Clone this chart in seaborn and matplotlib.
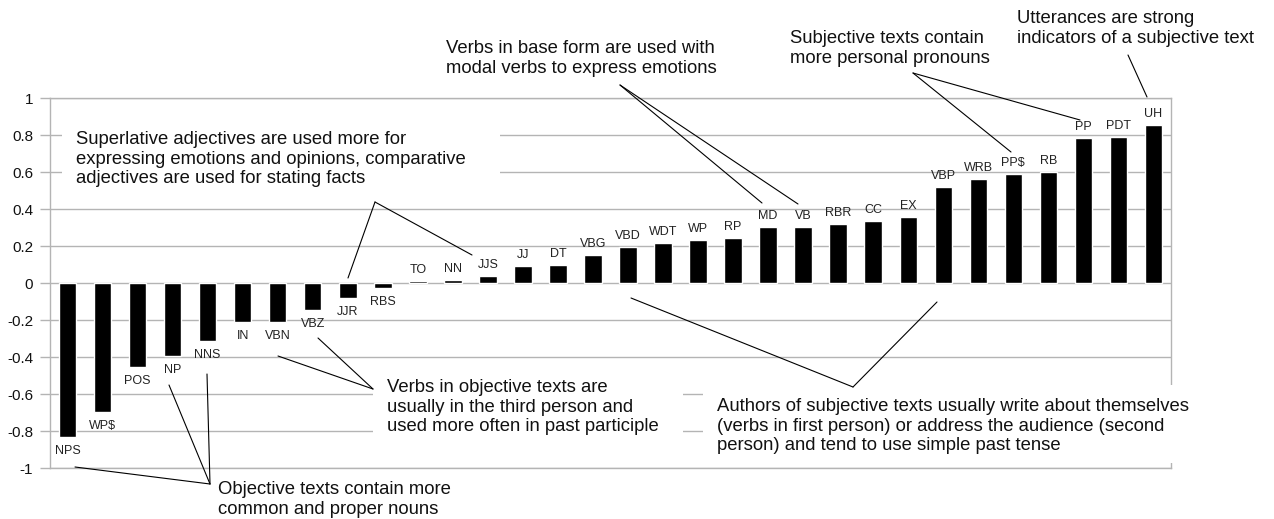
import matplotlib
matplotlib.use("Agg")
import matplotlib.pyplot as plt
from matplotlib.patches import Rectangle
from matplotlib.lines import Line2D
import seaborn as sns
import pandas as pd

# part-of-speech tags and their scores
tags = ["NPS", "WP$", "POS", "NP", "NNS", "IN", "VBN", "VBZ", "JJR", "RBS",
        "TO", "NN", "JJS", "JJ", "DT", "VBG", "VBD", "WDT", "WP", "RP",
        "MD", "VB", "RBR", "CC", "EX", "VBP", "WRB", "PP$", "RB", "PP",
        "PDT", "UH"]
scores = [-0.832, -0.697, -0.454, -0.393, -0.314, -0.211, -0.211, -0.144, -0.081, -0.025,
          0.014, 0.020, 0.040, 0.094, 0.099, 0.153, 0.195, 0.216, 0.236, 0.247,
          0.303, 0.306, 0.319, 0.339, 0.357, 0.519, 0.566, 0.589, 0.602, 0.787,
          0.793, 0.858]
y_ticks = [-1, -0.8, -0.6, -0.4, -0.2, 0, 0.2, 0.4, 0.6, 0.8, 1]
y_tick_labels = ["-1", "-0.8", "-0.6", "-0.4", "-0.2", "0", "0.2", "0.4", "0.6", "0.8", "1"]

df = pd.DataFrame({"tag": tags, "score": scores})

sns.set_theme(style="white")
plt.rcParams["font.family"] = ["Liberation Sans", "DejaVu Sans"]

W, H = 1274, 519
fig = plt.figure(figsize=(W / 100, H / 100), dpi=100)
fig.patch.set_facecolor("white")
ax = fig.add_axes([50 / W, 1 - 468.3 / H, 1121 / W, 370 / H])

sns.barplot(data=df, x="tag", y="score", color="black", width=0.5,
            saturation=1, ax=ax, zorder=3)
ax.set_xlim(-0.5, len(tags) - 0.5)
ax.set_ylim(-1, 1)
ax.set_yticks(y_ticks)
ax.set_yticklabels(y_tick_labels, fontsize=11, color="#111111")
ax.set_xticks([])
ax.set_xlabel("")
ax.set_ylabel("")
ax.yaxis.grid(True, color="#b4b4b4", linewidth=1)
ax.tick_params(axis="y", length=7, width=1, color="#b4b4b4", pad=5, left=True)
for side in ["left", "right", "top", "bottom"]:
    ax.spines[side].set_color("#b4b4b4")
    ax.spines[side].set_linewidth(1)

# labels above / below each bar
for i, (t, v) in enumerate(zip(tags, scores)):
    if v >= 0:
        ax.annotate(t, (i, v), xytext=(0, 3.5), textcoords="offset points",
                    ha="center", va="bottom", fontsize=9, color="#222222")
    else:
        ax.annotate(t, (i, v), xytext=(0, -5.5), textcoords="offset points",
                    ha="center", va="top", fontsize=9, color="#222222")


def fpos(x, y):
    return x / W, 1 - y / H


# white boxes behind the notes (hide gridlines)
boxes = [(62, 112, 500, 195), (373, 368, 683, 447), (703, 385, 1208, 463),
         (205, 472, 507, 519)]
for x0, y0, x1, y1 in boxes:
    fig.add_artist(Rectangle(fpos(x0, y1), (x1 - x0) / W, (y1 - y0) / H,
                             transform=fig.transFigure, facecolor="white",
                             edgecolor="none", zorder=2))

notes = [
    (76, 131, "Superlative adjectives are used more for\nexpressing emotions and opinions, comparative\nadjectives are used for stating facts"),
    (446, 40, "Verbs in base form are used with\nmodal verbs to express emotions"),
    (790, 30, "Subjective texts contain\nmore personal pronouns"),
    (1017, 10, "Utterances are strong\nindicators of a subjective text"),
    (387, 379, "Verbs in objective texts are\nusually in the third person and\nused more often in past participle"),
    (218, 481, "Objective texts contain more\ncommon and proper nouns"),
    (717, 398, "Authors of subjective texts usually write about themselves\n(verbs in first person) or address the audience (second\nperson) and tend to use simple past tense"),
]
for x, y, s in notes:
    fig.text(*fpos(x, y), s, fontsize=13.3, ha="left", va="top",
             color="#111111", linespacing=1.2, zorder=4)

# leader lines: (start, end)
leaders = [
    ((375, 202), (348, 278)), ((375, 202), (472, 255)),
    ((620, 85), (762, 203)), ((620, 85), (798, 204)),
    ((913, 73), (1011, 152)), ((913, 73), (1080, 120)),
    ((1128, 55), (1147, 97)),
    ((373, 389), (278, 356)), ((373, 389), (318, 338)),
    ((210, 484), (75, 467)), ((210, 484), (169, 385)), ((210, 484), (207, 374)),
    ((853, 387), (631, 298)), ((853, 387), (937, 302)),
]
for (xa, ya), (xb, yb) in leaders:
    p0, p1 = fpos(xa, ya), fpos(xb, yb)
    fig.add_artist(Line2D([p0[0], p1[0]], [p0[1], p1[1]], transform=fig.transFigure,
                          color="black", linewidth=0.8, zorder=3))

fig.savefig("out.png", dpi=100, facecolor="white")
